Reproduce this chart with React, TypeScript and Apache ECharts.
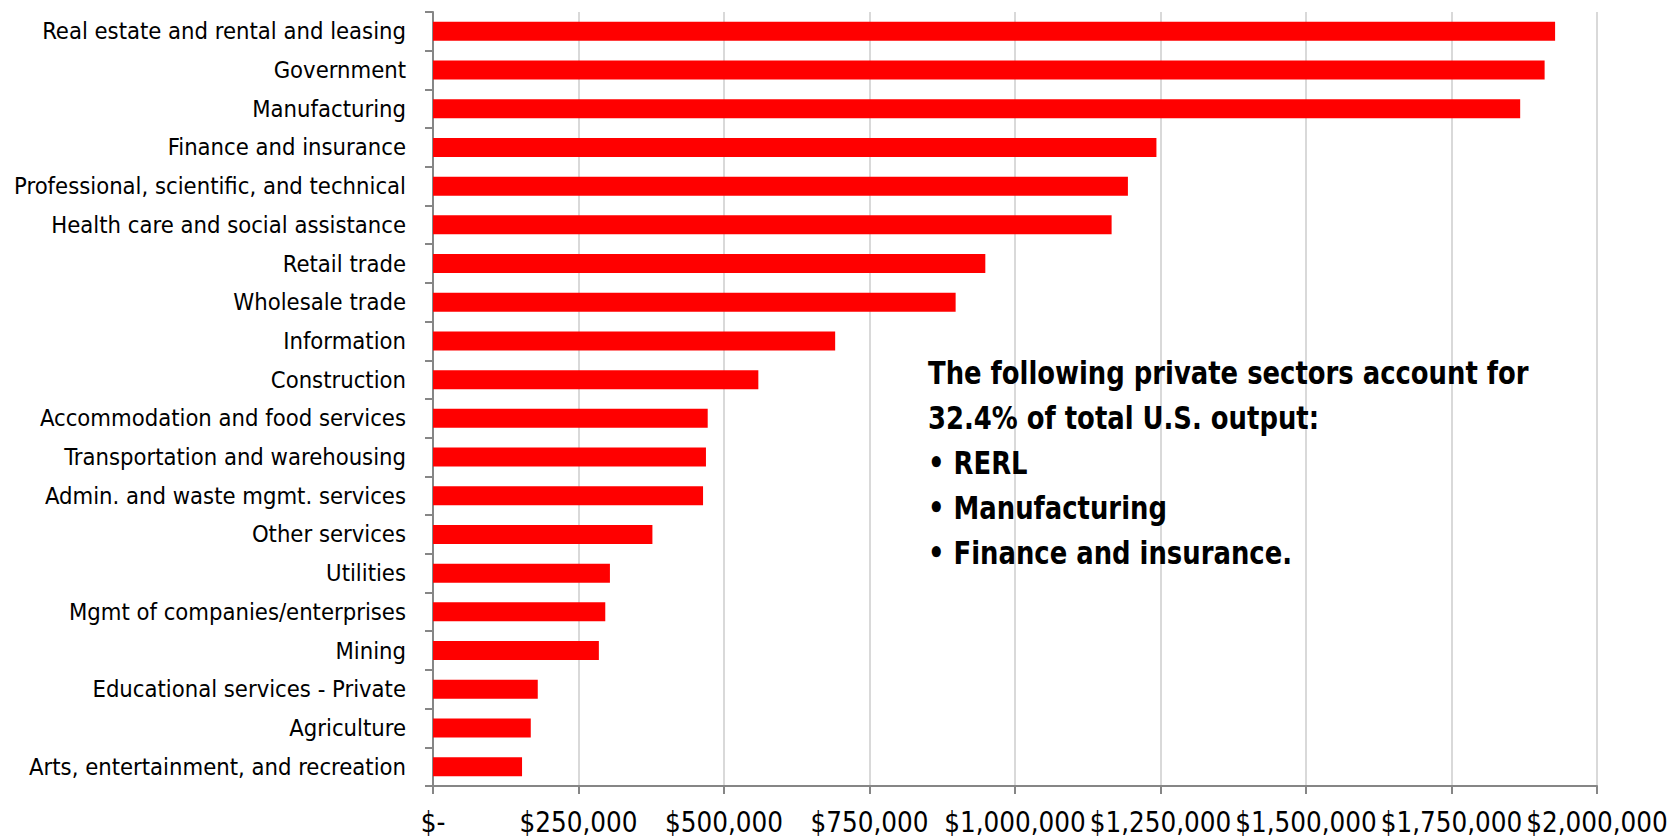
import React, { useEffect, useRef } from "react";
import * as echarts from "echarts";

const categories: string[] = [
  "Real estate and rental and leasing",
  "Government",
  "Manufacturing",
  "Finance and insurance",
  "Professional, scientific, and technical",
  "Health care and social assistance",
  "Retail trade",
  "Wholesale trade",
  "Information",
  "Construction",
  "Accommodation and food services",
  "Transportation and warehousing",
  "Admin. and waste mgmt. services",
  "Other services",
  "Utilities",
  "Mgmt of companies/enterprises",
  "Mining",
  "Educational services - Private",
  "Agriculture",
  "Arts, entertainment, and recreation",
];

const outputValues: number[] = [
  1928000, 1910000, 1868000, 1243000, 1194000, 1166000, 949000, 898000,
  691000, 559000, 472000, 469000, 464000, 377000, 304000, 296000, 285000,
  180000, 168000, 153000,
];

const xTicks = { min: 0, max: 2000000, interval: 250000 };

const noteLines: string[] = [
  "The following private sectors account for",
  "32.4% of total U.S. output:",
  "• RERL",
  "• Manufacturing",
  "• Finance and insurance.",
];

const FONT = '"DejaVu Sans Condensed", "Liberation Sans Narrow", "Arial Narrow", sans-serif';

export default function App() {
  const ref = useRef<HTMLDivElement>(null);

  useEffect(() => {
    if (!ref.current) return;
    const chart = echarts.init(ref.current, null, { renderer: "svg" });

    const noteFont = `bold 32px ${FONT}`;
    let noteScale = 0.8;
    const cvs = document.createElement("canvas");
    const ctx = cvs.getContext("2d");
    if (ctx) {
      ctx.font = noteFont;
      const w = ctx.measureText(noteLines[0]).width;
      if (w > 0) noteScale = 601 / w;
    }

    chart.setOption({
      animation: false,
      backgroundColor: "#ffffff",
      grid: {
        left: 433,
        top: 12,
        width: 1164,
        height: 774,
        containLabel: false,
        outerBoundsMode: "none",
      },
      xAxis: {
        type: "value",
        min: xTicks.min,
        max: xTicks.max,
        interval: xTicks.interval,
        axisLine: { show: true, lineStyle: { color: "#868686", width: 2 } },
        axisTick: { show: true, length: 8, lineStyle: { color: "#868686", width: 2 } },
        splitLine: { show: true, lineStyle: { color: "#D9D9D9", width: 2 } },
        axisLabel: {
          margin: 22,
          color: "#000000",
          fontFamily: FONT,
          fontSize: 27.5,
          showMinLabel: true,
          showMaxLabel: true,
          hideOverlap: false,
          formatter: (v: number) => (v === 0 ? "$-" : "$" + v.toLocaleString("en-US")),
        },
      },
      yAxis: {
        type: "category",
        inverse: true,
        data: categories,
        axisLine: { show: true, lineStyle: { color: "#868686", width: 2 } },
        axisTick: { show: true, length: 8, lineStyle: { color: "#868686", width: 2 } },
        axisLabel: {
          margin: 27,
          color: "#000000",
          fontFamily: FONT,
          fontSize: 23.6,
          interval: 0,
        },
        splitLine: { show: false },
      },
      series: [
        {
          type: "bar",
          data: outputValues,
          barWidth: 19,
          itemStyle: { color: "#FF0000" },
        },
      ],
      graphic: [
        {
          type: "text",
          x: 928,
          y: 350,
          scaleX: noteScale,
          z: 10,
          style: {
            text: noteLines.join("\n"),
            font: noteFont,
            lineHeight: 45,
            verticalAlign: "top",
            fill: "#000000",
          },
        },
      ],
    });
    return () => chart.dispose();
  }, []);

  return (
    <div
      ref={ref}
      style={{ position: "fixed", left: 0, top: 0, width: 1676, height: 840 }}
    />
  );
}
